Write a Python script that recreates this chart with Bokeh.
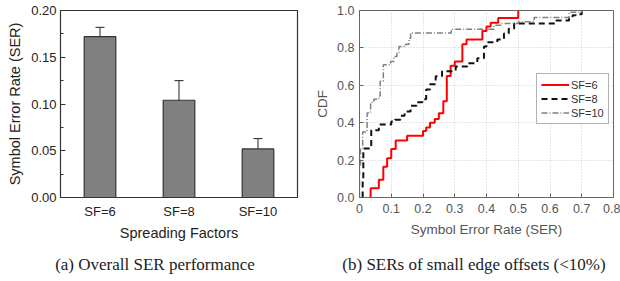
from bokeh.plotting import figure
from bokeh.models import (ColumnDataSource, Whisker, TeeHead, FactorRange, Range1d,
                          SingleIntervalTicker, NumeralTickFormatter, Legend, LegendItem, Div)
from bokeh.layouts import row, column
from bokeh.embed import file_html
from bokeh.resources import INLINE

# ---------------- data ----------------
sf_labels = ["SF=6", "SF=8", "SF=10"]
ser_mean = [0.172, 0.104, 0.052]
ser_upper = [0.182, 0.125, 0.063]
ser_lower = [0.162, 0.083, 0.041]

sf6_x = [0.035, 0.035, 0.061, 0.075, 0.087, 0.100, 0.114, 0.150, 0.200, 0.210, 0.222, 0.237,
         0.250, 0.264, 0.275, 0.287, 0.300, 0.324, 0.337, 0.387, 0.400, 0.413, 0.437, 0.500]
sf6_y = [0.0, 0.05, 0.095, 0.165, 0.21, 0.26, 0.305, 0.33, 0.355, 0.375, 0.40, 0.42,
         0.45, 0.515, 0.65, 0.705, 0.727, 0.82, 0.845, 0.89, 0.915, 0.935, 0.96, 1.0]

sf8_x = [0.010, 0.010, 0.012, 0.037, 0.061, 0.100, 0.112, 0.129, 0.142, 0.161, 0.180, 0.198,
         0.210, 0.222, 0.240, 0.260, 0.303, 0.340, 0.371, 0.392, 0.400, 0.434, 0.455, 0.470,
         0.487, 0.620, 0.660, 0.671, 0.681, 0.700]
sf8_y = [0.0, 0.095, 0.262, 0.36, 0.39, 0.406, 0.416, 0.437, 0.46, 0.49, 0.51, 0.526,
         0.578, 0.605, 0.648, 0.675, 0.70, 0.718, 0.745, 0.807, 0.83, 0.845, 0.877, 0.903,
         0.93, 0.947, 0.956, 0.974, 0.98, 1.0]

sf10_x = [0.000, 0.000, 0.003, 0.010, 0.024, 0.035, 0.045, 0.061, 0.065, 0.075, 0.098, 0.108,
          0.118, 0.124, 0.145, 0.156, 0.161, 0.289, 0.424, 0.445, 0.500, 0.550, 0.660, 0.700]
sf10_y = [0.0, 0.174, 0.26, 0.35, 0.452, 0.508, 0.526, 0.543, 0.622, 0.71, 0.727, 0.754,
          0.772, 0.807, 0.819, 0.851, 0.88, 0.90, 0.921, 0.93, 0.94, 0.963, 0.99, 1.0]

caption_a = "(a) Overall SER performance"
caption_b = "(b) SERs of small edge offsets (<10%)"

SANS = "Liberation Sans"
SERIF = "Liberation Serif"
FIG_H = 252

# ---------------- left: bar chart ----------------
src = ColumnDataSource(dict(sf=sf_labels, ser=ser_mean, up=ser_upper, lo=ser_lower))

p1 = figure(width=310, height=FIG_H, x_range=FactorRange(*sf_labels), y_range=Range1d(0, 0.2),
            output_backend="svg", toolbar_location=None,
            min_border_left=60, min_border_right=13, min_border_top=10, min_border_bottom=55)
p1.vbar(x="sf", top="ser", width=0.4, source=src, fill_color="#808080",
        line_color="#333333", line_width=1.2)
p1.add_layout(Whisker(base="sf", upper="up", lower="lo", source=src, line_color="#222222",
                      line_width=1,
                      upper_head=TeeHead(size=9, line_color="#222222", line_width=1),
                      lower_head=TeeHead(size=9, line_color="#222222", line_width=1)))
p1.xgrid.visible = False
p1.ygrid.visible = False
p1.outline_line_color = "#333333"
p1.outline_line_width = 1.2

ya = p1.yaxis[0]
ya.ticker = SingleIntervalTicker(interval=0.05, num_minor_ticks=2)
ya.formatter = NumeralTickFormatter(format="0.00")
ya.major_tick_in = 5
ya.major_tick_out = 0
ya.minor_tick_in = 3
ya.minor_tick_out = 0
ya.axis_line_color = "#333333"
ya.major_tick_line_color = "#333333"
ya.minor_tick_line_color = "#333333"
ya.axis_label = "Symbol Error Rate (SER)"
ya.axis_label_text_font = SANS
ya.axis_label_text_font_size = "14.5px"
ya.axis_label_text_font_style = "normal"
ya.axis_label_text_color = "#222222"
ya.axis_label_standoff = 5
ya.major_label_text_font = SANS
ya.major_label_text_font_size = "13px"
ya.major_label_text_color = "#222222"
ya.major_label_standoff = 4

xa = p1.xaxis[0]
xa.major_tick_line_color = None
xa.minor_tick_line_color = None
xa.axis_line_color = "#333333"
xa.axis_label = "Spreading Factors"
xa.axis_label_text_font = SANS
xa.axis_label_text_font_size = "14.5px"
xa.axis_label_text_font_style = "normal"
xa.axis_label_text_color = "#222222"
xa.axis_label_standoff = 3
xa.major_label_text_font = SANS
xa.major_label_text_font_size = "13px"
xa.major_label_text_color = "#222222"
xa.major_label_standoff = 0

# ---------------- right: CDF chart ----------------
p2 = figure(width=310, height=FIG_H, x_range=Range1d(0, 0.8), y_range=Range1d(0, 1.0),
            output_backend="svg", toolbar_location=None,
            min_border_left=49, min_border_right=7, min_border_top=10, min_border_bottom=52)
r6 = p2.step(sf6_x, sf6_y, mode="after", line_color="#ff0000", line_width=2)
r8 = p2.step(sf8_x, sf8_y, mode="after", line_color="#111111", line_width=2,
             line_dash="6 4")
r10 = p2.step(sf10_x, sf10_y, mode="after", line_color="#808080", line_width=1.5,
              line_dash="6 2 1 2")

tick_col = "#555555"
xb = p2.xaxis[0]
xb.ticker = SingleIntervalTicker(interval=0.1, num_minor_ticks=0)
xb.formatter = NumeralTickFormatter(format="0.[0]")
yb = p2.yaxis[0]
yb.ticker = SingleIntervalTicker(interval=0.2, num_minor_ticks=0)
yb.formatter = NumeralTickFormatter(format="0.0")
for ax in (xb, yb):
    ax.major_tick_in = 4
    ax.major_tick_out = 0
    ax.minor_tick_line_color = None
    ax.axis_line_color = "#666666"
    ax.major_tick_line_color = "#666666"
    ax.major_label_text_font = SANS
    ax.major_label_text_font_size = "12.5px"
    ax.major_label_text_color = tick_col
    ax.axis_label_text_font = SANS
    ax.axis_label_text_font_size = "13.5px"
    ax.axis_label_text_font_style = "normal"
    ax.axis_label_text_color = tick_col
xb.axis_label = "Symbol Error Rate (SER)"
xb.major_label_standoff = 6
xb.axis_label_standoff = 6
yb.axis_label = "CDF"
yb.major_label_standoff = 5
yb.axis_label_standoff = 4

p2.xgrid.grid_line_color = "#cccccc"
p2.ygrid.grid_line_color = "#cccccc"
p2.xgrid.grid_line_dash = "1 2"
p2.ygrid.grid_line_dash = "1 2"
p2.outline_line_color = "#666666"

legend = Legend(items=[LegendItem(label="SF=6", renderers=[r6]),
                       LegendItem(label="SF=8", renderers=[r8]),
                       LegendItem(label="SF=10", renderers=[r10])],
                location=(177, 73), label_text_font=SANS, label_text_font_size="11px",
                label_text_color="#333333", glyph_width=28, glyph_height=13,
                label_height=13, label_standoff=2, spacing=1, padding=4, margin=0,
                border_line_color="#666666", border_line_width=1,
                background_fill_color="white", background_fill_alpha=1)
p2.add_layout(legend)

# ---------------- captions ----------------
cap_style = {"font-family": SERIF, "font-size": "17px", "color": "#222222",
             "text-align": "center", "white-space": "nowrap", "line-height": "13px",
             "position": "relative"}
div_a = Div(text=caption_a, width=310, height=13, margin=(6, 0, 0, 0),
            styles=dict(cap_style, left="0px"))
div_b = Div(text=caption_b, width=310, height=13, margin=(6, 0, 0, 0),
            styles=dict(cap_style, left="9px"))

layout = column(row(p1, p2), row(div_a, div_b))
open("out.html", "w").write(file_html(layout, INLINE))
